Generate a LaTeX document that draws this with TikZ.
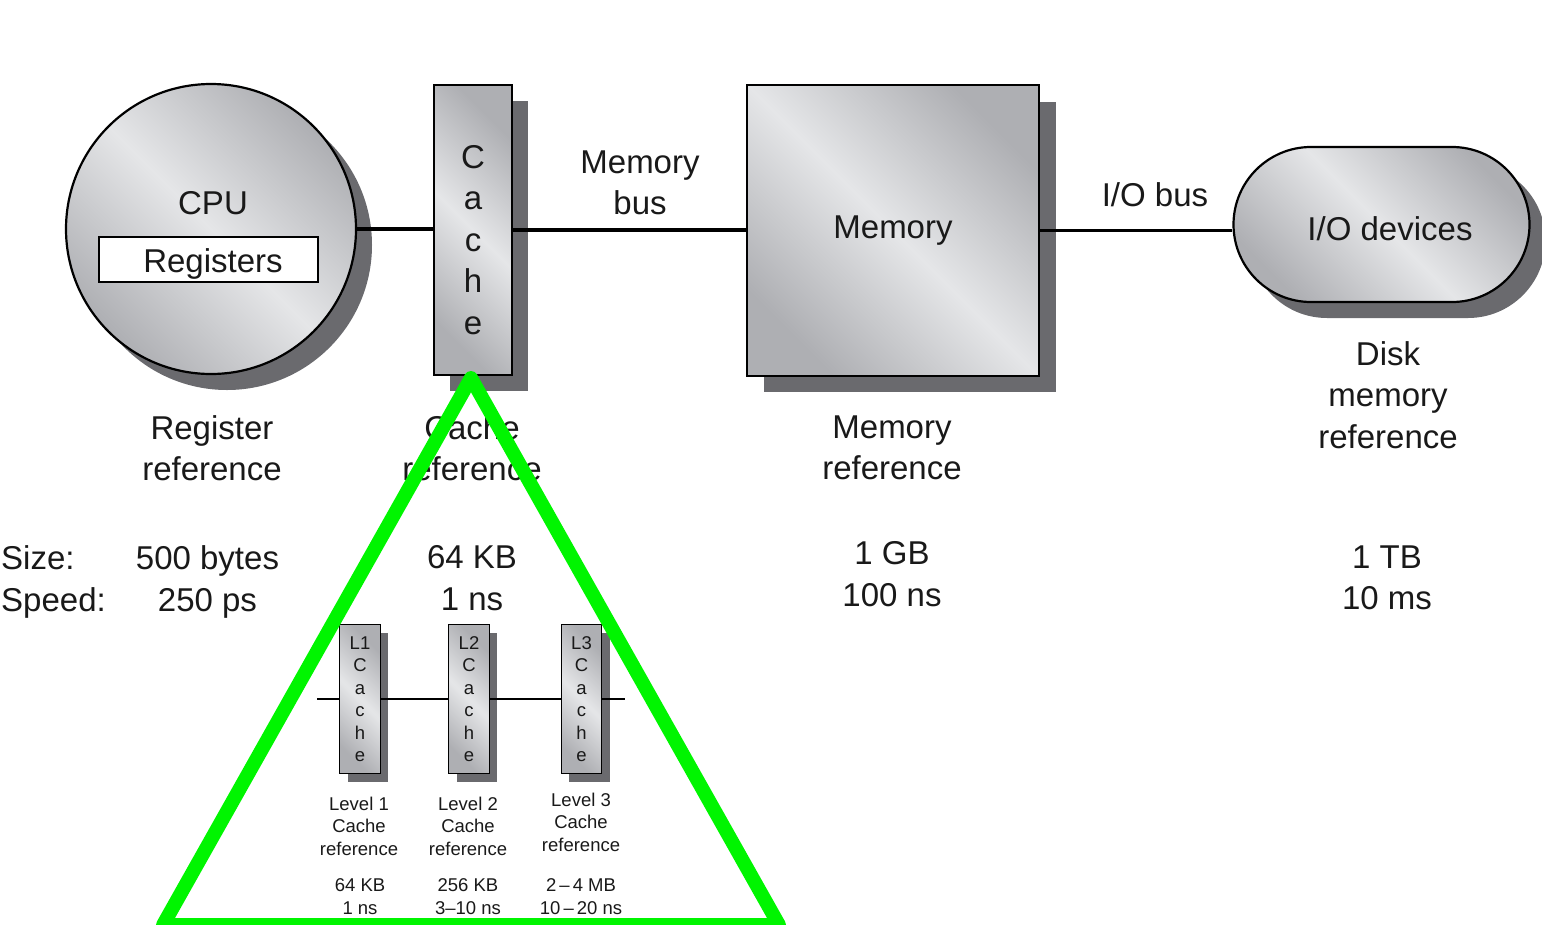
\documentclass[tikz,border=0pt]{standalone}
\usepackage{fontspec}
\setmainfont{Liberation Sans}
\usetikzlibrary{shadows}
\definecolor{metalD}{RGB}{174,175,179}
\definecolor{metalL}{RGB}{229,230,232}
\definecolor{shadowc}{RGB}{106,106,110}
\definecolor{hlgreen}{RGB}{0,245,0}
\begin{document}
\begin{tikzpicture}[x=1pt,y=-1pt,
  bigtxt/.style={font=\fontsize{33}{41.5}\selectfont, inner sep=0pt, align=center, text=black!90},
  smalltxt/.style={font=\fontsize{18.5}{22.5}\selectfont, inner sep=0pt, align=center, text=black!90},
  metal/.style={top color=metalD, bottom color=metalD, middle color=metalL, shading angle=-45},
  shad/.style={drop shadow={shadow xshift=#1, shadow yshift=-#1, opacity=1, fill=shadowc}},
  unit/.style={draw=black, line width=2.2pt, metal, inner sep=0pt},
  smallunit/.style={draw=black, line width=1.3pt, metal, inner sep=0pt, minimum width=40.5pt, minimum height=149pt, shad=8pt, smalltxt},
  bus/.style={line width=3.6pt},
  smallbus/.style={line width=2.2pt},
  hl/.style={draw=hlgreen, line width=14pt, line join=round}
]
\useasboundingbox (0,0) rectangle (1542,924);

% main units
\node[unit, circle, minimum size=290pt, shad=16pt] (cpu) at (211,229) {};
\node[bigtxt, anchor=base] (cputxt) at (213,214) {CPU};
\node[draw=black, fill=white, line width=2.2pt, minimum width=219pt, minimum height=45.5pt, bigtxt, text height=25pt, text depth=0pt] (reg) at (208.5,259.5) {\hspace*{9pt}Registers};

\node[unit, minimum width=77.5pt, minimum height=290pt, shad=16pt] (cache) at (473,230) {};
\node[bigtxt] (cachetxt) at (473,240) {C\\a\\c\\h\\e};

\node[unit, minimum width=292pt, minimum height=290.5pt, shad=16.5pt, bigtxt] (mem) at (893,230.5) {Memory};

\node[unit, rounded corners=77.5pt, minimum width=296pt, minimum height=155pt, shad=16pt, bigtxt, text height=31pt, text depth=0pt] (io) at (1381.5,224.5) {\hspace*{17pt}I/O devices};

% buses
\draw[bus] (cpu.east) -- (cpu.east -| cache.west);
\draw[bus] (cache.east) -- (cache.east -| mem.west);
\draw[bus] (mem.east) -- (mem.east -| io.west);

% labels
\node[bigtxt] (mbus) at (640,183) {Memory\\bus};
\node[bigtxt, anchor=base] (iobus) at (1155,206) {I/O bus};
\node[bigtxt] (regref) at (212,448) {Register\\reference};
\node[bigtxt] (cacheref) at (472,448) {Cache\\reference};
\node[bigtxt] (memref) at (892,448) {Memory\\reference};
\node[bigtxt] (diskref) at (1388,395) {Disk\\memory\\reference};
\node[bigtxt, align=left, anchor=west] (sizelbl) at (1,582) {Size:\\Speed:};
\node[bigtxt] (regsz) at (207.5,582) {500 bytes\\250 ps};
\node[bigtxt] (cachesz) at (472,578) {64 KB\\1 ns};
\node[bigtxt] (memsz) at (892,574) {1 GB\\100 ns};
\node[bigtxt] (disksz) at (1387,578) {1 TB\\10 ms};

% multilevel caches
\node[smallunit] (l1) at (360,699) {L1\\C\\a\\c\\h\\e};
\node[smallunit] (l2) at (469,699) {L2\\C\\a\\c\\h\\e};
\node[smallunit] (l3) at (581.5,699) {L3\\C\\a\\c\\h\\e};
\coordinate (sl) at (317,699);
\coordinate (sr) at (625,699);
\draw[smallbus] (sl) -- (l1);
\draw[smallbus] (l1) -- (l2);
\draw[smallbus] (l2) -- (l3);
\draw[smallbus] (l3) -- (sr);

\node[smalltxt] (l1ref) at (359,826) {Level 1\\Cache\\reference};
\node[smalltxt] (l2ref) at (468,826) {Level 2\\Cache\\reference};
\node[smalltxt] (l3ref) at (581,822) {Level 3\\Cache\\reference};
\node[smalltxt] (l1sz) at (360,896.5) {64 KB\\1 ns};
\node[smalltxt] (l2sz) at (468,896.5) {256 KB\\3–10 ns};
\node[smalltxt] (l3sz) at (581,896.5) {2\,–\,4 MB\\10\,–\,20 ns};

% highlight triangle
\coordinate (ta) at (471,378);
\coordinate (tb) at (163,925);
\coordinate (tc) at (779,925);
\draw[hl] (ta) -- (tb) -- (tc) -- cycle;
\end{tikzpicture}
\end{document}
